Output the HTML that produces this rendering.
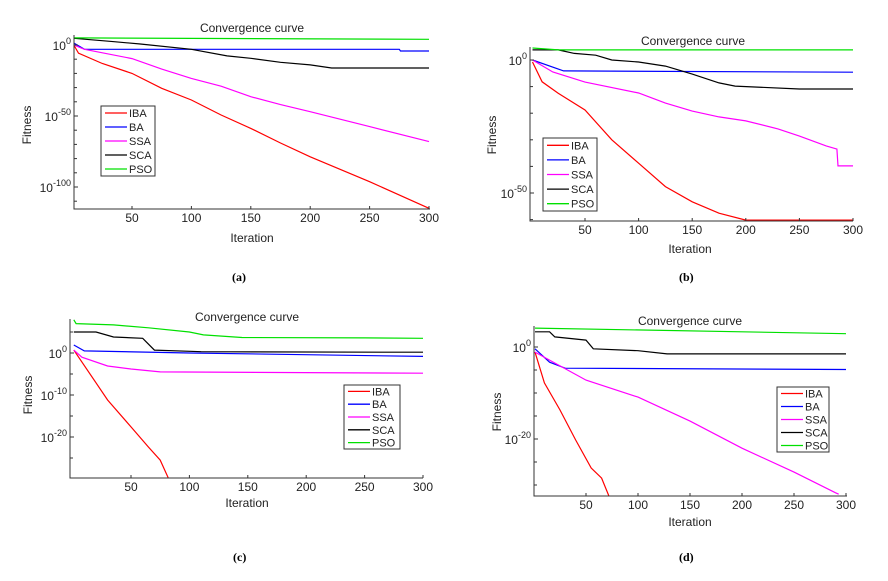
<!DOCTYPE html>
<html><head><meta charset="utf-8"><style>
body{margin:0;background:#fff;width:888px;height:581px;overflow:hidden;font-family:"Liberation Sans",sans-serif}
svg{position:absolute;left:0;top:0}
</style></head><body>
<svg id="s" width="888" height="581" xmlns="http://www.w3.org/2000/svg"></svg>
<script>
const seriesNames=["IBA","BA","SSA","SCA","PSO"];
const seriesColors=["#ff0000","#0000ff","#ff00ff","#000000","#00e000"];
const xTicks=[50,100,150,200,250,300];
// panel a (log10 fitness)
const aIt={IBA:[1,5,25,50,75,100,125,150,175,200,250,300],BA:[1,10,275,276,300],SSA:[1,10,50,75,100,125,150,175,200,250,300],SCA:[1,35,57,100,130,150,175,200,218,300],PSO:[1,300]};
const aVal={IBA:[0,-5.8,-13,-20,-30.5,-38.7,-49.3,-58.7,-69,-78.7,-96.3,-115],BA:[1.4,-3,-3,-4.2,-4.2],SSA:[0,-3,-9.6,-17,-23.5,-29,-36.4,-42,-47,-57.5,-68],SCA:[4.7,2.3,0.7,-3,-7.7,-9.4,-12.2,-14,-16.2,-16.2],PSO:[5,4]};
// panel b
const bIt={IBA:[1,10,25,50,75,100,125,150,175,200,300],BA:[1,30,300],SSA:[1,20,50,100,125,150,175,200,230,250,275,285,286,300],SCA:[1,25,40,60,75,100,125,150,175,190,250,300],PSO:[1,25,300]};
const bVal={IBA:[-0.75,-8.2,-12.5,-18.8,-30,-38.8,-47.6,-53.3,-57.6,-60.2,-60.2],BA:[0,-4.1,-4.6],SSA:[0,-4.5,-8.3,-12.4,-16.2,-19.2,-21.4,-22.9,-25.9,-28.6,-32.3,-33.5,-39.8,-39.8],SCA:[3.8,3.8,2.5,1.8,0,-0.75,-2.3,-5.3,-8.6,-9.8,-10.9,-10.9],PSO:[4.5,3.8,3.8]};
// panel c
const cIt={IBA:[1,20,30,50,65,75,82,300],BA:[1,10,100,300],SSA:[1,8,30,50,75,300],SCA:[1,20,35,60,70,110,270,300],PSO:[1,3,35,65,100,112,145,250,300]};
const cVal={IBA:[0.7,-7.1,-11.2,-17.6,-22.4,-25.5,-29.8,-29.8],BA:[1.9,0.5,0,-0.8],SSA:[0.7,-1,-3.1,-3.8,-4.5,-4.8],SCA:[5,5,3.8,3.5,0.7,0.3,0.2,0.2],PSO:[7.9,7,6.7,6,5,4.3,3.7,3.6,3.5]};
// panel d
const dIt={IBA:[1,10,25,40,55,65,72],BA:[1,15,30,300],SSA:[1,25,50,100,150,200,250,290,293],SCA:[1,15,20,50,57,100,128,300],PSO:[1,300]};
const dVal={IBA:[-1.1,-7.8,-13.7,-20.2,-26.3,-28.5,-32.4],BA:[-0.4,-3.3,-4.6,-4.9],SSA:[-1.1,-4.1,-7.2,-10.9,-16.1,-22,-27.2,-31.7,-32],SCA:[3.3,3.3,2.2,1.5,-0.4,-0.8,-1.5,-1.5],PSO:[4.1,2.9]};

const S=document.getElementById('s');const NS="http://www.w3.org/2000/svg";
function mk(tag,at,parent){const e=document.createElementNS(NS,tag);for(const k in at)e.setAttribute(k,at[k]);(parent||S).appendChild(e);return e;}
function txt(x,y,s,at,parent){const e=mk('text',Object.assign({x:x,y:y,'font-size':12,fill:'#222'},at||{}),parent);e.textContent=s;return e;}

const panels=[
 {id:'a',L:74,R:430,T:35,B:209,x50:132,x300:429,y0:45,pd:1.42,vmin:-115.5,vmax:7,labels:[0,-50,-100],minor:10,it:aIt,val:aVal,leg:[101,106,54,70],title:[252,28],fit:[27,125],iter:[252,242],cap:[232,281]},
 {id:'b',L:530,R:853,T:47,B:221,x50:585,x300:853,y0:60,pd:2.66,vmin:-60.5,vmax:4.9,labels:[0,-50],minor:10,it:bIt,val:bVal,leg:[543,138,54,73],title:[693,41],fit:[492,135],iter:[690,253],cap:[679,281]},
 {id:'c',L:70,R:423,T:319,B:478,x50:131,x300:423,y0:353,pd:4.2,vmin:-29.8,vmax:8.1,labels:[0,-10,-20],minor:5,it:cIt,val:cVal,leg:[344,385,56,64],title:[247,317],fit:[28,395],iter:[247,507],cap:[233,561]},
 {id:'d',L:534,R:847,T:326,B:496,x50:586,x300:846,y0:347,pd:4.6,vmin:-32,vmax:4.6,labels:[0,-20],minor:5,it:dIt,val:dVal,leg:[777,387,52,65],title:[690,321],fit:[497,412],iter:[690,526],cap:[679,561]}
];
panels.forEach(p=>{
 const g=mk('g',{});
 
 
 const xs=it=>p.x50+(it-50)*(p.x300-p.x50)/250;
 const ys=v=>p.y0-v*p.pd;
 const clipId='clip'+p.id;
 const cp=mk('clipPath',{id:clipId},g);mk('rect',{x:p.L,y:p.T-3,width:p.R-p.L+2,height:p.B-p.T+3},cp);
 seriesNames.forEach((n,i)=>{
  const its=p.it[n],vs=p.val[n];
  const pts=its.map((t,k)=>xs(t).toFixed(1)+','+ys(vs[k]).toFixed(1)).join(' ');
  const l=mk('polyline',{points:pts,fill:'none',stroke:seriesColors[i],'stroke-width':1.2,'clip-path':'url(#'+clipId+')'},g);
  
  
 });
 const ax=mk('path',{d:`M${p.L},${p.T} V${p.B} H${p.R}`,stroke:'#333',fill:'none','stroke-width':1},g);
 
 
 xTicks.forEach(t=>{const x=xs(t);mk('line',{x1:x,x2:x,y1:p.B,y2:p.B-3,stroke:'#333'},g);
  const e=txt(x,p.B+13,String(t),{'text-anchor':'middle'},g);
  
  });
 for(let v=Math.ceil(p.vmax/p.minor)*p.minor;v>=p.vmin;v-=p.minor){const y=ys(v);if(y<p.T||y>p.B)continue;mk('line',{x1:p.L,x2:p.L+3,y1:y,y2:y,stroke:'#333'},g);}
 p.labels.forEach(v=>{const y=ys(v);mk('line',{x1:p.L,x2:p.L+4,y1:y,y2:y,stroke:'#333'},g);
  const e=mk('text',{x:p.L-3,y:y+5,'font-size':12,fill:'#222','text-anchor':'end'},g);
  
  
  e.appendChild(document.createTextNode('10'));
  const sp=mk('tspan',{dy:-6,'font-size':9},e);sp.textContent=String(v);});
 const tt=txt(p.title[0],p.title[1]+4,'Convergence curve',{'text-anchor':'middle','font-size':12},g);
 
 
 const fl=txt(0,0,'Fitness',{'text-anchor':'middle','font-size':12,transform:`translate(${p.fit[0]+4},${p.fit[1]}) rotate(-90)`},g);
 
 
 const il=txt(p.iter[0],p.iter[1],'Iteration',{'text-anchor':'middle','font-size':12},g);
 
 
 const cap=txt(p.cap[0],p.cap[1],'('+p.id+')',{'font-family':'"Liberation Serif",serif','font-weight':'bold','font-size':12,fill:'#000'},g);
 
 
 const [lx,ly,lw,lh]=p.leg;
 const lg=mk('g',{},g);
 
 
 mk('rect',{x:lx,y:ly,width:lw,height:lh,fill:'#fff',stroke:'#333'},lg);
 const step=lh/5;
 seriesNames.forEach((n,i)=>{const y=ly+step*(i+0.5);
  const en=mk('g',{},lg);
  
  
  mk('line',{x1:lx+4,x2:lx+26,y1:y,y2:y,stroke:seriesColors[i],'stroke-width':1.3},en);
  txt(lx+28,y+4,n,{'font-size':11},en);});
});
</script>
</body></html>
